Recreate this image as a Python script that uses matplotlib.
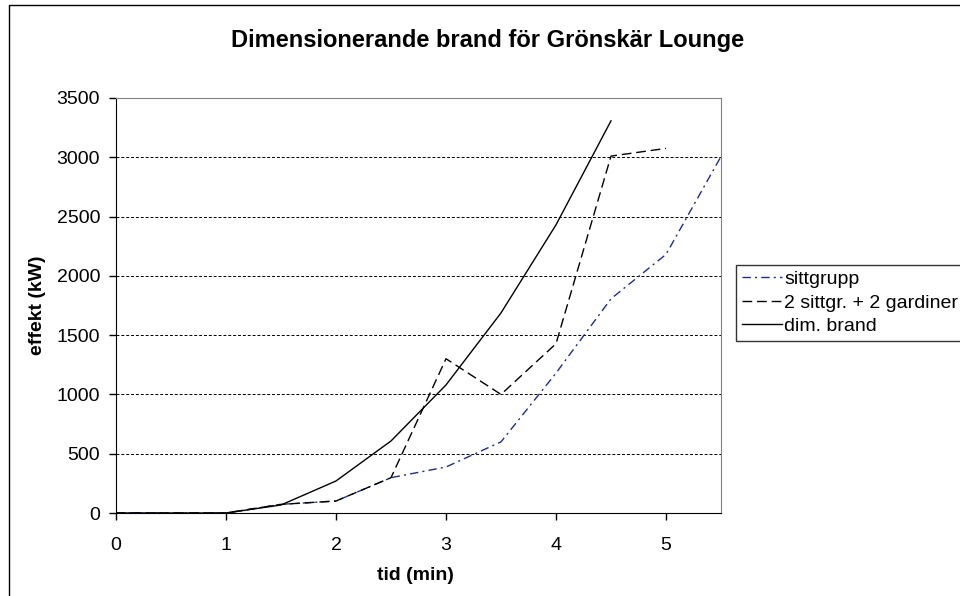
import matplotlib
matplotlib.use("Agg")
import matplotlib.pyplot as plt
from matplotlib.patches import Rectangle

plt.rcParams['font.family'] = ['Liberation Sans', 'DejaVu Sans']

tid = [0, 0.5, 1, 1.5, 2, 2.5, 3, 3.5, 4, 4.5, 5, 5.5]
sittgrupp = [0, 0, 0, 73, 101, 298, 388, 600, 1180, 1807, 2181, 3007]
tid2 = [0, 0.5, 1, 1.5, 2, 2.5, 3, 3.5, 4, 4.5, 5]
gardiner = [0, 0, 0, 73, 101, 298, 1301, 1000, 1428, 3010, 3075]
tid3 = [0, 0.5, 1, 1.5, 2, 2.5, 3, 3.5, 4, 4.5]
dim_brand = [0, 0, 0, 67.5, 270, 607.5, 1080, 1687.5, 2430, 3307.5]

labels = ["sittgrupp", "2 sittgr. + 2 gardiner", "dim. brand"]

fig = plt.figure(figsize=(9.6, 5.96), dpi=100)
W, H = 960, 596
ax = fig.add_axes([116 / W, 1 - 513 / H, (721 - 116) / W, (513 - 98) / H])

# outer chart border
fig.patches.append(Rectangle((9 / W, -0.1), 1.2, 1 - 4.5 / H + 0.1, transform=fig.transFigure,
                             fill=False, edgecolor='black', linewidth=1.0))

ax.plot(tid, sittgrupp, color='#1f2e8a', linewidth=1.0, dashes=(6, 3, 1.5, 3), label=labels[0])
ax.plot(tid2, gardiner, color='black', linewidth=1.0, dashes=(7, 3.5), label=labels[1])
ax.plot(tid3, dim_brand, color='black', linewidth=1.0, label=labels[2])

ax.set_xlim(0, 5.5)
ax.set_ylim(0, 3500)
ax.set_xticks([0, 1, 2, 3, 4, 5])
ax.set_yticks(range(0, 3501, 500))
ax.yaxis.grid(True, color='black', linestyle=(0, (3, 2)), linewidth=0.7)
ax.set_axisbelow(True)

for s in ['top', 'right']:
    ax.spines[s].set_color('#808080')
for s in ['left', 'bottom']:
    ax.spines[s].set_color('black')
ax.tick_params(direction='out', length=5, labelsize=14, width=1, colors='black')
ax.tick_params(axis='x', pad=12)
ax.tick_params(axis='y', pad=6.5)

fig.text(415 / W, 1 - 575 / H, "tid (min)", ha='center', va='center',
         fontsize=14, fontweight='bold')
fig.text(37 / W, 1 - 305 / H, "effekt (kW)", ha='center', va='center',
         fontsize=14, fontweight='bold', rotation=90)
fig.text(488 / W, 1 - 41 / H, "Dimensionerande brand för Grönskär Lounge",
         ha='center', va='center', fontsize=17, fontweight='bold')

leg = ax.legend(loc='upper left', bbox_to_anchor=(736 / W, 1 - 265 / H),
                bbox_transform=fig.transFigure, fontsize=14, frameon=True,
                fancybox=False, edgecolor='black', handlelength=2.05, handletextpad=0.15,
                borderpad=0.29, labelspacing=0.3, borderaxespad=0)
leg.get_frame().set_linewidth(1.0)

fig.savefig("out.png", dpi=100)
